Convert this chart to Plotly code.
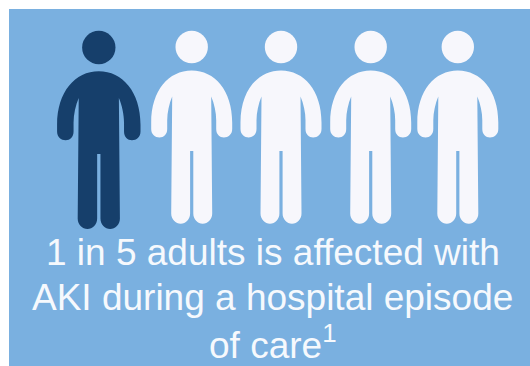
import plotly.graph_objects as go

# Pictogram data
person_labels = ["affected", "not affected", "not affected", "not affected", "not affected"]
person_x = [98.8, 191.7, 281.0, 370.7, 457.8]
head_y = [47.5, 47.0, 47.0, 47.0, 47.0]
body_top = [71.2, 70.5, 70.5, 70.5, 70.5]
scale_x = [1.03, 1.0, 1.0, 1.0, 1.0]
scale_y = [1.03, 1.0, 1.0, 1.0, 1.0]
text_lines = ["1 in 5 adults is affected with", "AKI during a hospital episode", "of care<sup>1</sup>"]
text_y = [252, 297, 342]

PANEL = "#7AB0E0"
DARK = "#163F6B"
LIGHT = "#F7F7FC"
TEXT = "#F6F9FD"


def body_path(cx, top, sx, sy):
    half = [
        ("M", (0, 0)),
        ("C", (23, 0), (40.5, 20), (40.5, 52)),
        ("L", (40.5, 58.5)),
        ("C", (40.5, 64), (36.5, 67), (32.2, 67)),
        ("C", (28, 67), (24.5, 64), (24.5, 58.5)),
        ("L", (24.5, 50)),
        ("C", (24.5, 42), (22.5, 33), (19.5, 26)),
        ("L", (20.5, 143)),
        ("C", (20.5, 149), (16, 153.2), (11, 153.2)),
        ("C", (6, 153.2), (1.6, 149), (1.6, 143)),
        ("L", (1.6, 80.5)),
        ("L", (0, 80.5)),
    ]

    def pt(p, sign=1):
        return f"{cx + sign * p[0] * sx:.2f},{top + p[1] * sy:.2f}"

    d = []
    for seg in half:
        d.append(seg[0] + " " + " ".join(pt(p) for p in seg[1:]))
    # mirror the left half, walking backwards
    pts = [(s[0], s[1:]) for s in half]
    for i in range(len(pts) - 1, 0, -1):
        cmd, ctrl = pts[i]
        prev_end = pts[i - 1][1][-1]
        seq = list(ctrl[:-1])[::-1] + [prev_end]
        d.append(cmd + " " + " ".join(pt(p, -1) for p in seq))
    return " ".join(d) + " Z"


shapes = [dict(type="rect", xref="x", yref="y", x0=9, x1=530, y0=9, y1=366,
               fillcolor=PANEL, line_width=0, layer="below")]

for i, cx in enumerate(person_x):
    color = DARK if person_labels[i] == "affected" else LIGHT
    r = 16.2 * scale_x[i]
    shapes.append(dict(type="circle", xref="x", yref="y", x0=cx - r, x1=cx + r,
                       y0=head_y[i] - r, y1=head_y[i] + r, fillcolor=color, line_width=0))
    shapes.append(dict(type="path", xref="x", yref="y",
                       path=body_path(cx, body_top[i], scale_x[i], scale_y[i]),
                       fillcolor=color, line_width=0))

annotations = [
    dict(x=272.8, y=yy, xref="x", yref="y", text=t, showarrow=False,
         xanchor="center", yanchor="middle", align="center",
         font=dict(family="Liberation Sans, Arial, sans-serif", size=37, color=TEXT))
    for t, yy in zip(text_lines, text_y)
]

fig = go.Figure()
fig.update_layout(
    width=530, height=366,
    margin=dict(l=0, r=0, t=0, b=0),
    paper_bgcolor="white", plot_bgcolor="white",
    showlegend=False,
    xaxis=dict(range=[0, 530], visible=False, fixedrange=True),
    yaxis=dict(range=[366, 0], visible=False, fixedrange=True),
    shapes=shapes, annotations=annotations,
)
fig.write_html("out.html", config=dict(displayModeBar=False),
               post_script="document.body.style.margin='0';document.body.style.overflow='hidden';")
